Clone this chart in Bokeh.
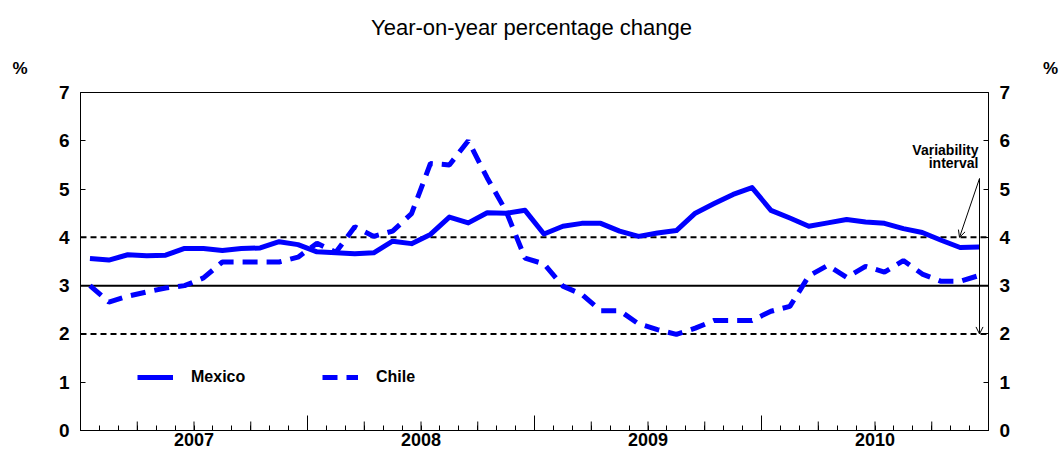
from bokeh.plotting import figure
from bokeh.layouts import column
from bokeh.models import (Range1d, LinearAxis, FixedTicker, Span, Label, Legend,
                          LegendItem, Arrow, OpenHead, ColumnDataSource)
from bokeh.core.properties import value
from bokeh.embed import file_html
from bokeh.resources import INLINE

# ---------------- data ----------------
years = ["2007", "2008", "2009", "2010"]
months = [f"{y}-{m:02d}" for y in years for m in range(1, 13)]

mexico = [3.56, 3.53, 3.64, 3.62, 3.63, 3.77, 3.77, 3.73, 3.77, 3.78, 3.91, 3.85,
          3.70, 3.68, 3.66, 3.68, 3.92, 3.87, 4.06, 4.42, 4.30, 4.51, 4.50, 4.56,
          4.07, 4.23, 4.29, 4.29, 4.13, 4.02, 4.09, 4.14, 4.50, 4.70, 4.89, 5.03,
          4.56, 4.40, 4.23, 4.30, 4.37, 4.32, 4.29, 4.18, 4.10, 3.94, 3.79, 3.80]

chile = [3.00, 2.66, 2.78, 2.87, 2.95, 3.00, 3.16, 3.49, 3.49, 3.49, 3.49, 3.59,
         3.88, 3.69, 4.22, 4.02, 4.13, 4.49, 5.53, 5.50, 6.00, 5.23, 4.54, 3.57,
         3.45, 2.99, 2.82, 2.48, 2.48, 2.21, 2.09, 1.99, 2.12, 2.28, 2.28, 2.28,
         2.47, 2.57, 3.20, 3.42, 3.17, 3.40, 3.28, 3.52, 3.24, 3.09, 3.09, 3.21]

y_ticks = [0, 1, 2, 3, 4, 5, 6, 7]
band_low, target, band_high = 2, 3, 4
title_text = "Year-on-year percentage change"
unit_label = "%"
annotation_lines = ["Variability", "interval"]
series_names = ["Mexico", "Chile"]

# ---------------- layout ----------------
FONT = "Liberation Sans"
BLUE = "#0000FF"
W = 1059
HEAD_H = 80
MAIN_H = 454 - HEAD_H                   # 374
BL, BR = 80, 71
BT, BB = 12, 24
N = len(months)
YMAX = 7
PX_X = (W - BL - BR) / N
PX_Y = (MAIN_H - BT - BB) / YMAX
FRAME_BOTTOM = HEAD_H + MAIN_H - BB


def dx(page_x):
    return (page_x - BL) / PX_X


def dy(page_y):
    return (FRAME_BOTTOM - page_y) / PX_Y


# ---------- header (title and unit labels) ----------
head = figure(width=W, height=HEAD_H, output_backend="svg", toolbar_location=None,
              x_range=Range1d(0, W), y_range=Range1d(HEAD_H, 0),
              x_axis_type=None, y_axis_type=None, frame_align=False,
              min_border_left=0, min_border_right=0, min_border_top=0,
              min_border_bottom=0, background_fill_color="white",
              border_fill_color="white")
head.grid.visible = False
head.outline_line_color = None
head.text(x=[531], y=[27], text=[title_text], text_align="center",
          text_baseline="middle", text_font=value(FONT),
          text_font_size="22px", text_color="black")
head.text(x=[19.5, 1050], y=[68, 68], text=[unit_label, unit_label],
          text_align="center", text_baseline="middle", text_font=value(FONT),
          text_font_style="bold", text_font_size="17px", text_color="black")

# ---------- main chart ----------
p = figure(width=W, height=MAIN_H, output_backend="svg", toolbar_location=None,
           x_range=Range1d(0, N), y_range=Range1d(0, YMAX), frame_align=False,
           min_border_left=BL, min_border_right=BR, min_border_top=BT,
           min_border_bottom=BB, background_fill_color="white",
           border_fill_color="white")
p.grid.visible = False
p.outline_line_color = "black"
p.outline_line_width = 1

right_axis = LinearAxis()
p.add_layout(right_axis, "right")
for ax in (p.yaxis[0], right_axis):
    ax.ticker = FixedTicker(ticks=y_ticks)
    ax.major_tick_in = 5
    ax.major_tick_out = 0
    ax.minor_tick_in = 0
    ax.minor_tick_out = 0
    ax.axis_line_color = "black"
    ax.major_tick_line_color = "black"
    ax.major_label_text_font = FONT
    ax.major_label_text_font_style = "bold"
    ax.major_label_text_font_size = "19px"
    ax.major_label_text_color = "black"
    ax.major_label_standoff = 11

# x axis: year labels at mid-year, monthly minor ticks
year_mid = [12 * k + 6 for k in range(len(years))]
xa = p.xaxis[0]
xa.ticker = FixedTicker(ticks=year_mid, minor_ticks=list(range(N + 1)))
xa.major_label_overrides = {m: yr for m, yr in zip(year_mid, years)}
xa.major_tick_in = 0
xa.major_tick_out = 0
xa.minor_tick_in = 5
xa.minor_tick_out = 0
xa.axis_line_color = "black"
xa.minor_tick_line_color = "black"
xa.major_label_text_font = FONT
xa.major_label_text_font_style = "bold"
xa.major_label_text_font_size = "18px"
xa.major_label_text_color = "black"
xa.major_label_standoff = 2

# quarter (medium) and year-boundary (long) ticks
quarters = [q for q in range(3, N, 3) if q % 12 != 0]
year_bounds = [q for q in range(12, N, 12)]
for pos, length in ((quarters, 9), (year_bounds, 15)):
    p.segment(x0=pos, y0=[0] * len(pos), x1=pos, y1=[length / PX_Y] * len(pos),
              line_color="black", line_width=1)

for loc, dash in ((band_high, "6 4"), (band_low, "6 4"), (target, "solid")):
    p.add_layout(Span(location=loc, dimension="width", line_color="black",
                      line_width=2, line_dash=dash, level="underlay"))

x = [i + 0.5 for i in range(N)]
src = ColumnDataSource(dict(x=x, mexico=mexico, chile=chile))
r_mex = p.line("x", "mexico", source=src, line_color=BLUE, line_width=5,
               line_join="round")
r_chi = p.line("x", "chile", source=src, line_color=BLUE, line_width=5,
               line_dash="15 9")

leg = Legend(items=[LegendItem(label=series_names[0], renderers=[r_mex]),
                    LegendItem(label=series_names[1], renderers=[r_chi])],
             location=(57, 43), orientation="horizontal", padding=0, margin=0,
             spacing=0, glyph_width=36, glyph_height=20, label_standoff=18,
             label_width=131, label_height=20, border_line_color=None,
             background_fill_alpha=0, label_text_font=FONT,
             label_text_font_style="bold", label_text_font_size="16px",
             label_text_color="black")
p.add_layout(leg)

for line_txt, center in zip(annotation_lines, (149, 162)):
    p.add_layout(Label(x=dx(978), y=dy(center), text=line_txt,
                       text_align="right", text_baseline="middle",
                       text_font=FONT, text_font_style="bold",
                       text_font_size="14px", text_color="black"))

sx, sy = dx(979), dy(178)
for ex, ey in ((dx(959), band_high), (dx(979), band_low)):
    p.add_layout(Arrow(end=OpenHead(size=7, line_width=1, line_color="black"),
                       x_start=sx, y_start=sy, x_end=ex, y_end=ey,
                       line_color="black", line_width=1))

layout = column(head, p, spacing=0)
open("out.html", "w").write(file_html(layout, INLINE))
